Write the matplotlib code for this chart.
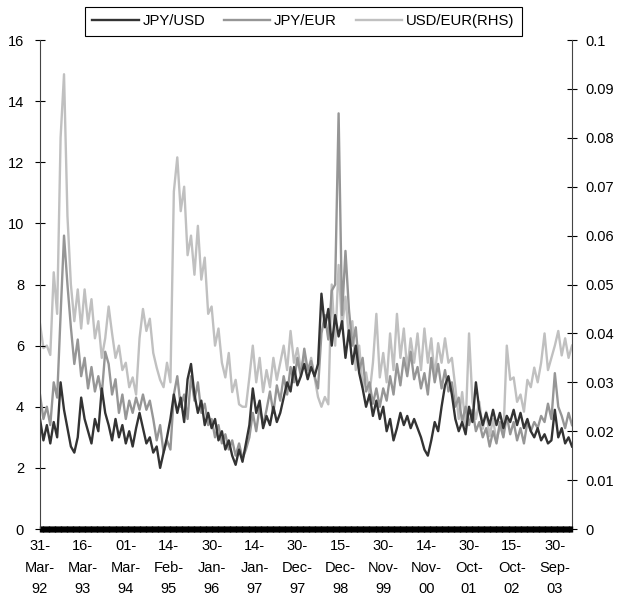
import numpy as np
import pandas as pd
import matplotlib
matplotlib.use('Agg')
import matplotlib.pyplot as plt

plt.rcParams['font.family'] = ['Liberation Sans', 'DejaVu Sans']

# rolling volatility, one reading every 20 business days from 31-Mar-92
start = '1992-03-31'
step = 20

jpy_usd = [
    3.6, 2.9, 3.4, 2.8, 3.5, 3.0, 4.8, 3.9, 3.3, 2.7,
    2.5, 3.0, 4.3, 3.6, 3.2, 2.8, 3.6, 3.2, 4.6, 3.8,
    3.4, 2.9, 3.6, 3.0, 3.4, 2.8, 3.2, 2.7, 3.3, 3.8,
    3.3, 2.8, 3.0, 2.5, 2.7, 2.0, 2.5, 3.0, 3.6, 4.4,
    3.8, 4.3, 3.5, 4.9, 5.4, 4.4, 3.8, 4.2, 3.4, 3.8,
    3.3, 3.6, 2.9, 3.2, 2.6, 2.9, 2.4, 2.1, 2.6, 2.2,
    2.8, 3.4, 4.6, 3.8, 4.2, 3.3, 3.7, 3.4, 4.0, 3.5,
    3.8, 4.3, 4.8, 4.5, 5.3, 4.7, 5.0, 5.4, 4.9, 5.3,
    5.0, 5.4, 7.7, 6.6, 7.2, 6.0, 7.0, 6.3, 6.8, 5.6,
    6.5, 5.4, 6.0, 5.1, 4.6, 4.0, 4.4, 3.7, 4.2, 3.6,
    4.0, 3.2, 3.6, 2.9, 3.3, 3.8, 3.4, 3.7, 3.3, 3.6,
    3.3, 3.0, 2.6, 2.4, 2.9, 3.5, 3.2, 4.0, 4.7, 5.0,
    4.4, 3.6, 3.2, 3.5, 3.1, 4.0, 3.5, 4.8, 3.9, 3.4,
    3.8, 3.4, 3.9, 3.4, 3.8, 3.3, 3.7, 3.5, 3.9, 3.4,
    3.8, 3.3, 3.6, 3.2, 3.0, 3.3, 2.9, 3.1, 2.8, 2.9,
    3.9, 3.0, 3.3, 2.8, 3.0, 2.7,
]

jpy_eur = [
    4.4, 3.6, 4.0, 3.4, 4.8, 4.3, 7.0, 9.6, 8.0, 6.6,
    5.4, 6.2, 5.0, 5.6, 4.6, 5.3, 4.5, 5.0, 4.4, 5.8,
    5.4, 4.4, 4.9, 3.8, 4.4, 3.6, 4.2, 3.8, 4.3, 3.9,
    4.4, 3.9, 4.2, 3.6, 2.9, 3.4, 2.5, 2.9, 2.6, 4.4,
    5.0, 4.0, 4.4, 3.6, 5.0, 4.2, 4.8, 3.8, 4.1, 3.4,
    3.6, 3.0, 3.4, 2.8, 3.1, 2.6, 2.9, 2.4, 2.8, 2.3,
    2.6, 3.0, 3.8, 3.2, 4.0, 3.4, 3.9, 4.5, 3.8, 4.7,
    4.2, 5.0, 4.4, 5.3, 4.8, 5.6, 5.0, 5.9, 5.2, 5.5,
    5.0, 4.6, 6.4, 7.0, 6.2, 7.8, 8.0, 13.6, 7.0, 9.1,
    7.2, 6.0, 6.6, 5.2, 5.6, 4.5, 4.8, 4.1, 4.6, 4.0,
    4.6, 4.2, 5.0, 4.4, 5.4, 4.7, 5.6, 5.0, 5.8, 4.9,
    5.3, 4.6, 5.1, 4.4, 5.6, 4.8, 5.4, 4.6, 5.2, 4.5,
    4.8, 4.0, 4.3, 3.5, 4.0, 3.4, 3.9, 3.2, 3.5, 3.0,
    3.3, 2.7, 3.2, 2.8, 3.5, 3.0, 3.7, 3.1, 3.5, 2.9,
    3.3, 2.8, 3.5, 3.2, 3.5, 3.3, 3.7, 3.5, 4.1, 3.6,
    5.1, 4.0, 3.7, 3.3, 3.8, 3.4,
]

usd_eur = [
    0.042, 0.037, 0.0375, 0.0356, 0.0525, 0.044, 0.080, 0.093, 0.064, 0.050,
    0.0425, 0.049, 0.041, 0.049, 0.042, 0.047, 0.039, 0.0425, 0.035, 0.039,
    0.0455, 0.040, 0.035, 0.0375, 0.0325, 0.034, 0.029, 0.031, 0.0275, 0.039,
    0.045, 0.0405, 0.043, 0.036, 0.033, 0.0305, 0.029, 0.034, 0.030, 0.069,
    0.076, 0.065, 0.070, 0.056, 0.060, 0.052, 0.062, 0.051, 0.0555, 0.044,
    0.0455, 0.0375, 0.041, 0.034, 0.031, 0.036, 0.028, 0.0305, 0.0255, 0.025,
    0.025, 0.031, 0.0375, 0.030, 0.035, 0.028, 0.0325, 0.029, 0.035, 0.0305,
    0.034, 0.0375, 0.0325, 0.0405, 0.034, 0.037, 0.0325, 0.0355, 0.032, 0.035,
    0.031, 0.027, 0.025, 0.027, 0.0255, 0.050, 0.0375, 0.054, 0.041, 0.0475,
    0.039, 0.0425, 0.0325, 0.0375, 0.029, 0.032, 0.0275, 0.034, 0.044, 0.031,
    0.036, 0.030, 0.040, 0.0325, 0.044, 0.035, 0.041, 0.0325, 0.039, 0.034,
    0.040, 0.0325, 0.041, 0.034, 0.039, 0.031, 0.038, 0.034, 0.039, 0.034,
    0.035, 0.029, 0.0225, 0.028, 0.021, 0.040, 0.026, 0.0225, 0.026, 0.0205,
    0.024, 0.019, 0.0225, 0.018, 0.021, 0.019, 0.0375, 0.0305, 0.031, 0.026,
    0.0275, 0.024, 0.0305, 0.029, 0.033, 0.030, 0.034, 0.040, 0.0325, 0.035,
    0.0375, 0.0405, 0.0355, 0.039, 0.035, 0.0375,
]

n_days = (len(jpy_usd) - 1) * step
dates = pd.bdate_range(start, periods=n_days + 1)
pos = np.arange(len(jpy_usd)) * step

fig = plt.figure(figsize=(6.21, 6.11), dpi=100)
ax = fig.add_axes([0.0644, 0.1342, 0.8567, 0.8003])
ax2 = ax.twinx()

l3, = ax2.plot(pos, usd_eur, color='#c0c0c0', lw=1.7, label='USD/EUR(RHS)')
l2, = ax.plot(pos, jpy_eur, color='#969696', lw=1.7, label='JPY/EUR')
l1, = ax.plot(pos, jpy_usd, color='#333333', lw=1.7, label='JPY/USD')
ax.set_zorder(ax2.get_zorder() + 1)
ax.patch.set_visible(False)

ax.set_xlim(0, n_days)
ax.set_ylim(0, 16)
ax2.set_ylim(0, 0.1)

ax.set_yticks(np.arange(0, 17, 2))
ax2.set_yticks(np.arange(0, 0.101, 0.01))
ax2.set_yticklabels(['0'] + ['%g' % round(v, 2) for v in np.arange(0.01, 0.101, 0.01)])

# category style axis: label every 250 business days, dense ticks in between
tick_idx = np.arange(0, n_days + 1, 250)
ax.set_xticks(tick_idx)
ax.set_xticklabels([dates[i].strftime('%d-\n%b-\n%y') for i in tick_idx],
                   linespacing=1.68)
ax.set_xticks(np.arange(0, n_days + 1, 5), minor=True)

for a in (ax, ax2):
    a.spines['top'].set_visible(False)
ax.spines['right'].set_visible(False)
ax2.spines['left'].set_visible(False)
ax2.spines['bottom'].set_visible(False)
ax.spines['left'].set_color('#444444')
ax2.spines['right'].set_color('#444444')
ax.spines['left'].set_linewidth(0.8)
ax2.spines['right'].set_linewidth(0.8)

ax.tick_params(axis='y', direction='inout', length=7, width=0.8, labelsize=10.5, pad=8)
ax2.tick_params(axis='y', direction='inout', length=7, width=0.8, labelsize=10.5, pad=6)
ax.tick_params(axis='x', which='major', direction='inout', length=4.5, width=1.0,
               labelsize=10.5, pad=5)
ax.tick_params(axis='x', which='minor', direction='inout', length=4.5, width=1.0)

leg = fig.legend(handles=[l1, l2, l3], loc='upper center', bbox_to_anchor=(0.4887, 0.9885),
                 ncol=3, fontsize=10.7, frameon=True, fancybox=False, edgecolor='black',
                 framealpha=1, handlelength=3.1, handletextpad=0.25, columnspacing=1.3,
                 borderpad=0.5, borderaxespad=0)
leg.get_frame().set_linewidth(0.8)

fig.savefig('out.png', dpi=100)
